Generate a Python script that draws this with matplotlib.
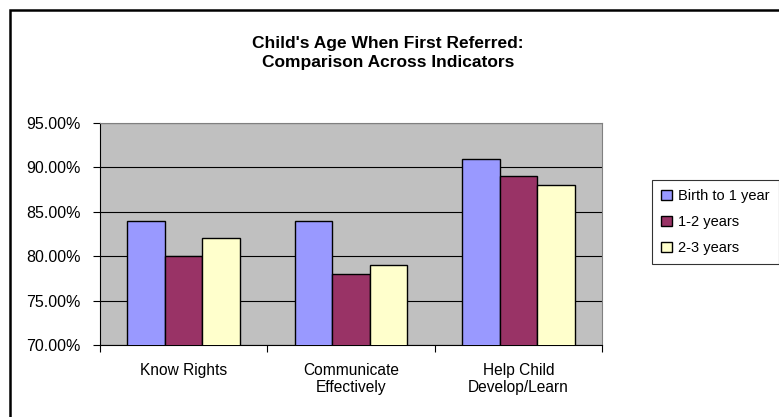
import matplotlib
matplotlib.use("Agg")
import matplotlib.pyplot as plt
import numpy as np
from matplotlib.patches import Rectangle
from matplotlib.ticker import FuncFormatter

plt.rcParams['font.family'] = ['Liberation Sans', 'DejaVu Sans']

categories = ["Know Rights", "Communicate\nEffectively", "Help Child\nDevelop/Learn"]
series_names = ["Birth to 1 year", "1-2 years", "2-3 years"]
birth_to_1 = [84, 84, 91]
one_to_two = [80, 78, 89]
two_to_three = [82, 79, 88]
colors = ["#9999FF", "#993366", "#FFFFCC"]

W, H = 779, 417
fig = plt.figure(figsize=(W / 100, H / 100), dpi=100)
fig.patch.set_facecolor("white")

# outer chart border (extends beyond image right/bottom)
fig.add_artist(Rectangle((10 / W, -0.1), 1.2, 1 - 10 / H + 0.1, transform=fig.transFigure,
                         fill=False, edgecolor="black", linewidth=1.8))

ax = fig.add_axes([100 / W, 1 - 345 / H, (602 - 100) / W, (345 - 123) / H])
ax.set_facecolor("#C0C0C0")

x = np.arange(len(categories))
bw = 0.224
for i, (vals, c, name) in enumerate(zip([birth_to_1, one_to_two, two_to_three], colors, series_names)):
    ax.bar(x + (i - 1) * bw, vals, width=bw, color=c, edgecolor="black", linewidth=1.0,
           label=name, zorder=3)

ax.set_xlim(-0.5, len(categories) - 0.5)
ax.set_ylim(70, 95)
ax.set_yticks(np.arange(70, 95.1, 5))
ax.yaxis.set_major_formatter(FuncFormatter(lambda v, p: f"{v:.2f}%"))
ax.grid(axis="y", color="black", linewidth=0.8, zorder=1)
ax.set_axisbelow(True)

ax.set_xticks(np.arange(-0.5, len(categories), 1.0))
ax.set_xticklabels([])
ax.set_xticks(x, minor=True)
ax.set_xticklabels(categories, minor=True, fontsize=11.2, linespacing=1.15)
ax.tick_params(axis="x", which="minor", length=0, pad=13)
ax.tick_params(axis="x", which="major", length=5, color="black")
ax.tick_params(axis="y", length=5, labelsize=11.5, pad=9)

for side in ["top", "right"]:
    ax.spines[side].set_color("#808080")
ax.spines["left"].set_color("black")
ax.spines["bottom"].set_color("black")

fig.text(388 / W, 1 - 53 / H, "Child's Age When First Referred:\nComparison Across Indicators",
         ha="center", va="center", fontsize=12.5, fontweight="bold", linespacing=1.4)

leg = fig.legend(loc="upper left", bbox_to_anchor=(652 / W, 1 - 180 / H), fontsize=10.5,
                 frameon=True, fancybox=False, edgecolor="black", handlelength=0.7,
                 handleheight=0.7, handletextpad=0.4, labelspacing=0.8, borderpad=0.65,
                 borderaxespad=0)
leg.get_frame().set_linewidth(0.8)

fig.savefig("out.png", dpi=100)
